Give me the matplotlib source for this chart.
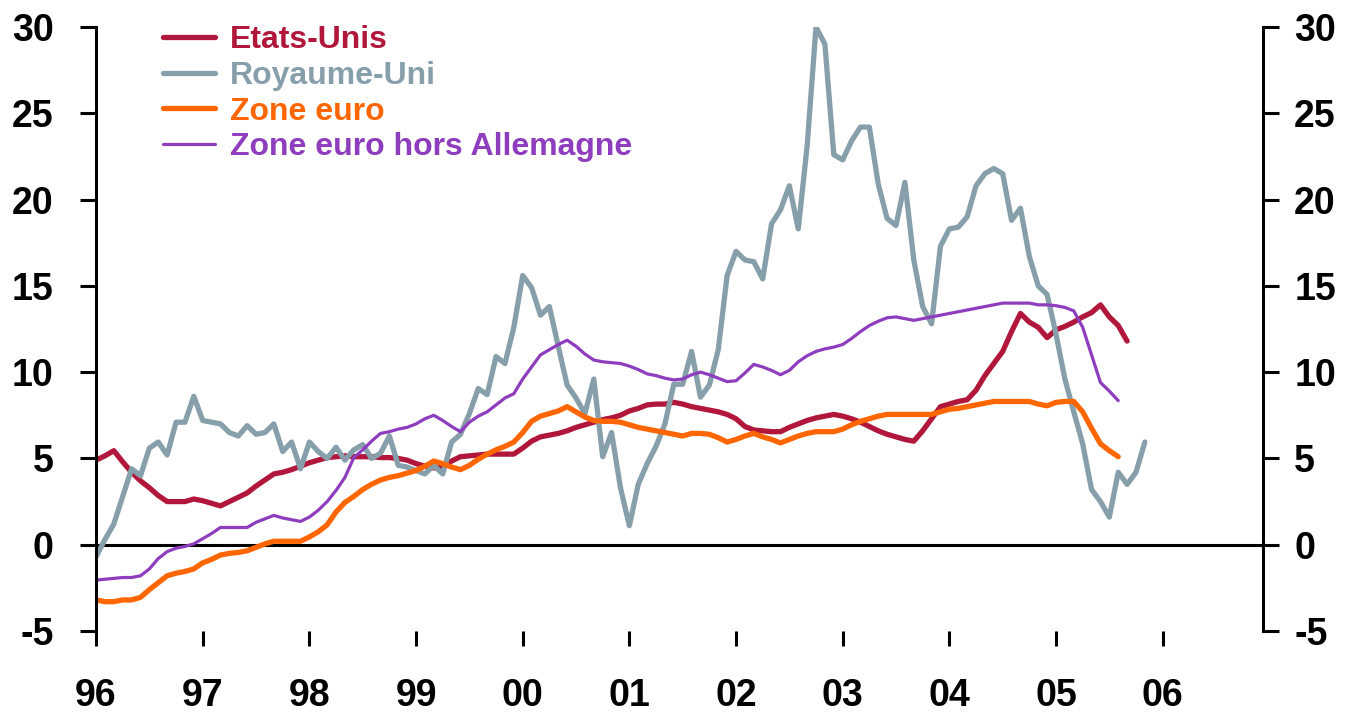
import numpy as np
import matplotlib
matplotlib.use("Agg")
import matplotlib.pyplot as plt
import matplotlib.transforms as mtransforms

plt.rcParams['font.family'] = ['Liberation Sans', 'DejaVu Sans']
plt.rcParams['font.weight'] = 'bold'
plt.rcParams['axes.unicode_minus'] = False

## ========================================================
## données mensuelles, à partir de janvier 1996
## ========================================================
start_year = 1996

etats_unis = [
    4.9, 5.15, 5.45, 4.8, 4.2, 3.7, 3.3, 2.85, 2.5, 2.5, 2.5, 2.65,        # 96
    2.55, 2.4, 2.25, 2.5, 2.75, 3.0, 3.4, 3.75, 4.1, 4.2, 4.35, 4.55,      # 97
    4.75, 4.9, 5.05, 5.1, 5.15, 5.1, 5.1, 5.1, 5.05, 5.05, 5.0, 4.9,       # 98
    4.7, 4.55, 4.45, 4.55, 4.85, 5.1, 5.15, 5.2, 5.25, 5.25, 5.25, 5.25,   # 99
    5.6, 6.0, 6.25, 6.35, 6.45, 6.6, 6.8, 6.95, 7.1, 7.25, 7.35, 7.5,      # 00
    7.75, 7.9, 8.1, 8.15, 8.15, 8.25, 8.15, 8.0, 7.9, 7.8, 7.7, 7.55,      # 01
    7.3, 6.85, 6.65, 6.6, 6.55, 6.55, 6.8, 7.0, 7.2, 7.35, 7.45, 7.55,     # 02
    7.45, 7.3, 7.1, 6.85, 6.6, 6.4, 6.25, 6.1, 6.0, 6.6, 7.3, 8.0,         # 03
    8.15, 8.3, 8.4, 8.95, 9.8, 10.5, 11.2, 12.35, 13.4, 12.9, 12.6, 12.0,  # 04
    12.45, 12.65, 12.9, 13.2, 13.45, 13.9, 13.2, 12.7, 11.8,               # 05
]

royaume_uni = [
    -0.7, 0.3, 1.2, 2.8, 4.4, 4.0, 5.6, 5.95, 5.2, 7.1, 7.1, 8.6,          # 96
    7.2, 7.1, 7.0, 6.5, 6.3, 6.9, 6.4, 6.5, 7.0, 5.4, 5.95, 4.4,           # 97
    5.95, 5.4, 5.0, 5.65, 4.9, 5.5, 5.8, 5.0, 5.3, 6.3, 4.6, 4.5,          # 98
    4.3, 4.1, 4.6, 4.1, 5.95, 6.4, 7.6, 9.05, 8.7, 10.9, 10.5, 12.6,       # 99
    15.6, 14.9, 13.3, 13.8, 11.5, 9.25, 8.5, 7.6, 9.6, 5.1, 6.5, 3.3,      # 00
    1.1, 3.5, 4.7, 5.7, 7.0, 9.3, 9.3, 11.2, 8.55, 9.25, 11.3, 15.6,       # 01
    17.0, 16.5, 16.4, 15.4, 18.6, 19.4, 20.8, 18.3, 23.1, 30.0, 29.0, 22.6, # 02
    22.3, 23.4, 24.2, 24.2, 20.9, 18.9, 18.5, 21.0, 16.5, 13.8, 12.8, 17.3, # 03
    18.3, 18.4, 19.0, 20.8, 21.5, 21.8, 21.5, 18.8, 19.5, 16.7, 15.0, 14.5, # 04
    12.2, 9.6, 7.7, 5.85, 3.2, 2.5, 1.6, 4.2, 3.5, 4.2, 5.95,              # 05
]

zone_euro = [
    -3.2, -3.3, -3.3, -3.2, -3.2, -3.05, -2.6, -2.2, -1.8, -1.65, -1.55, -1.4,  # 96
    -1.05, -0.85, -0.6, -0.5, -0.45, -0.35, -0.15, 0.05, 0.2, 0.2, 0.2, 0.2,    # 97
    0.45, 0.75, 1.15, 1.9, 2.45, 2.8, 3.2, 3.5, 3.75, 3.9, 4.0, 4.15,           # 98
    4.3, 4.55, 4.85, 4.7, 4.5, 4.35, 4.6, 4.95, 5.25, 5.5, 5.7, 5.95,           # 99
    6.5, 7.15, 7.45, 7.6, 7.75, 8.0, 7.7, 7.4, 7.2, 7.15, 7.15, 7.1,            # 00
    6.95, 6.8, 6.7, 6.6, 6.5, 6.4, 6.3, 6.45, 6.45, 6.4, 6.2, 5.95,             # 01
    6.1, 6.3, 6.45, 6.25, 6.1, 5.9, 6.1, 6.3, 6.45, 6.55, 6.55, 6.55,           # 02
    6.7, 6.95, 7.15, 7.3, 7.45, 7.55, 7.55, 7.55, 7.55, 7.55, 7.55, 7.7,        # 03
    7.85, 7.9, 8.0, 8.1, 8.2, 8.3, 8.3, 8.3, 8.3, 8.3, 8.15, 8.05,              # 04
    8.25, 8.3, 8.3, 7.7, 6.75, 5.85, 5.45, 5.1,                                 # 05
]

zone_euro_hors_all = [
    -2.05, -2.0, -1.95, -1.9, -1.9, -1.8, -1.4, -0.8, -0.4, -0.2, -0.1, 0.05,   # 96
    0.35, 0.65, 1.0, 1.0, 1.0, 1.0, 1.3, 1.5, 1.7, 1.55, 1.45, 1.35,            # 97
    1.6, 2.0, 2.5, 3.15, 3.9, 5.05, 5.5, 6.0, 6.45, 6.55, 6.7, 6.8,             # 98
    7.0, 7.3, 7.5, 7.2, 6.85, 6.55, 7.1, 7.45, 7.7, 8.1, 8.5, 8.75,             # 99
    9.6, 10.3, 11.0, 11.3, 11.6, 11.85, 11.5, 11.05, 10.7, 10.6, 10.55, 10.5,   # 00
    10.35, 10.15, 9.9, 9.8, 9.65, 9.55, 9.6, 9.85, 10.0, 9.85, 9.65, 9.45,      # 01
    9.5, 9.95, 10.45, 10.3, 10.1, 9.85, 10.1, 10.6, 10.95, 11.2, 11.35, 11.45,  # 02
    11.6, 11.95, 12.35, 12.7, 12.95, 13.15, 13.2, 13.1, 13.0, 13.1, 13.2, 13.3, # 03
    13.4, 13.5, 13.6, 13.7, 13.8, 13.9, 14.0, 14.0, 14.0, 14.0, 13.9, 13.9,     # 04
    13.85, 13.75, 13.55, 12.6, 11.0, 9.4, 8.9, 8.35,                            # 05
]

year_ticks = list(range(1996, 2007))
year_labels = ['96', '97', '98', '99', '00', '01', '02', '03', '04', '05', '06']
y_ticks = [-5, 0, 5, 10, 15, 20, 25, 30]

series = [
    ("Etats-Unis", etats_unis, "#B0173A", 3.8),
    ("Royaume-Uni", royaume_uni, "#879FAB", 3.8),
    ("Zone euro", zone_euro, "#FF6600", 3.8),
    ("Zone euro hors Allemagne", zone_euro_hors_all, "#8E3DBE", 2.3),
]


def months(values):
    return start_year + np.arange(len(values)) / 12.0


fig = plt.figure(figsize=(13.49, 7.16), dpi=100)
ax = fig.add_axes([0.0712, 0.1187, 0.865, 0.8436])

for name, vals, color, lw in series:
    ax.plot(months(vals), vals, color=color, lw=lw, label=name,
            solid_joinstyle='round', solid_capstyle='round')

ax.axhline(0, color='black', lw=2.2, zorder=1)

ax.set_xlim(1996, 2006.94)
ax.set_ylim(-5, 30)
ax.set_xticks(year_ticks)
ax.set_xticklabels(year_labels)
ax.set_yticks(y_ticks)

for side in ['top', 'bottom']:
    ax.spines[side].set_visible(False)
for side in ['left', 'right']:
    ax.spines[side].set_linewidth(2.2)

ax.tick_params(axis='y', which='both', left=True, right=True,
               labelleft=True, labelright=True, direction='out',
               length=11.5, width=2.2, pad=15, labelsize=27)
ax.tick_params(axis='x', direction='out', length=10.5, width=2.2,
               pad=23, labelsize=27)

# étiquettes de gauche un peu plus écartées de l'axe
shift = mtransforms.ScaledTranslation(-4 / 72, 0, fig.dpi_scale_trans)
for lab in ax.get_yticklabels():
    lab.set_transform(lab.get_transform() + shift)

leg = ax.legend(loc='upper left', bbox_to_anchor=(0.1208, 0.965),
                bbox_transform=fig.transFigure, frameon=False,
                borderpad=0, borderaxespad=0, handlelength=1.63,
                handletextpad=0.47, labelspacing=0.18,
                prop={'weight': 'bold', 'size': 23})
for text, (_, _, color, _) in zip(leg.get_texts(), series):
    text.set_color(color)

fig.savefig("out.png", dpi=100)
